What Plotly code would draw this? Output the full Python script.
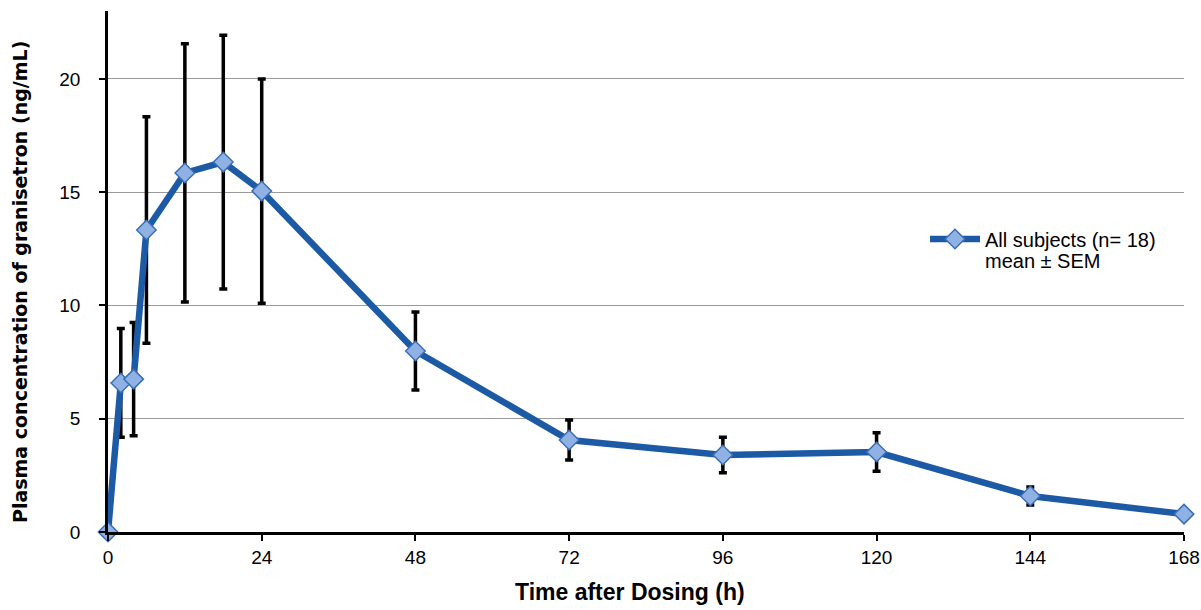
import plotly.graph_objects as go

time_h = [0, 2, 4, 6, 12, 18, 24, 48, 72, 96, 120, 144, 168]
conc_mean = [0, 6.58, 6.75, 13.33, 15.85, 16.33, 15.05, 7.99, 4.06, 3.40, 3.53, 1.59, 0.79]
conc_sem = [0, 2.4, 2.5, 5.0, 5.7, 5.6, 4.95, 1.72, 0.88, 0.78, 0.85, 0.40, 0.0]
x_ticks = [0, 24, 48, 72, 96, 120, 144, 168]
y_ticks = [0, 5, 10, 15, 20]

PL, PR, PT, PB = 108, 1184, 11, 532  # plot area pixel box


def px_x(p):
    return (p - PL) / (PR - PL)


def px_y(p):
    return (PB - p) / (PB - PT)


fig = go.Figure()
fig.add_trace(go.Scatter(
    x=time_h, y=conc_mean,
    mode="lines+markers",
    name="All subjects (n= 18)",
    line=dict(color="#1c5aa6", width=6.5),
    marker=dict(symbol="diamond", size=15, color="#8fb1e3",
                line=dict(color="#3a6fb8", width=1.5)),
    error_y=dict(type="data", array=conc_sem, visible=True,
                 color="black", thickness=3.5, width=4),
    cliponaxis=False,
))

fig.add_annotation(
    text="mean ± SEM", xref="paper", yref="paper",
    x=px_x(983), y=px_y(261), xanchor="left", yanchor="middle",
    showarrow=False, font=dict(size=20, color="black",
                               family="Liberation Sans, Arial, sans-serif"),
)
fig.add_annotation(
    text="<b>Time after Dosing (h)</b>", xref="paper", yref="paper",
    x=px_x(630), y=px_y(592), xanchor="center", yanchor="middle",
    showarrow=False, font=dict(size=23, color="black"),
)
fig.add_annotation(
    text="<b>Plasma concentration of granisetron (ng/mL)</b>", xref="paper", yref="paper",
    x=px_x(20), y=px_y(282), xanchor="center", yanchor="middle", textangle=-90,
    showarrow=False, font=dict(size=19, color="black", family="DejaVu Sans, sans-serif"),
)

fig.update_layout(
    width=1201, height=610,
    margin=dict(l=PL, r=1201 - PR, t=PT, b=610 - PB, autoexpand=False),
    paper_bgcolor="white", plot_bgcolor="white",
    font=dict(family="Liberation Sans, Arial, sans-serif", size=19, color="black"),
    showlegend=True,
    legend=dict(x=px_x(925), y=px_y(239), xanchor="left", yanchor="middle",
                bgcolor="rgba(0,0,0,0)", font=dict(size=20),
                itemwidth=50, tracegroupgap=0),
    xaxis=dict(
        range=[0, 168], tickvals=x_ticks, ticktext=[str(v) for v in x_ticks],
        showgrid=False, zeroline=False, automargin=False,
        showline=True, linecolor="black", linewidth=2.5,
        ticks="outside", ticklen=6, tickwidth=2, tickcolor="black",
    ),
    yaxis=dict(
        range=[0, 23], tickvals=y_ticks, ticktext=[str(v) for v in y_ticks],
        showgrid=True, gridcolor="#9a9a9a", gridwidth=1, zeroline=False, automargin=False,
        showline=True, linecolor="black", linewidth=2.5,
        ticks="outside", ticklen=6, tickwidth=1.5, tickcolor="black",
        ticklabelstandoff=15,
    ),
)

fig.write_html("out.html")
